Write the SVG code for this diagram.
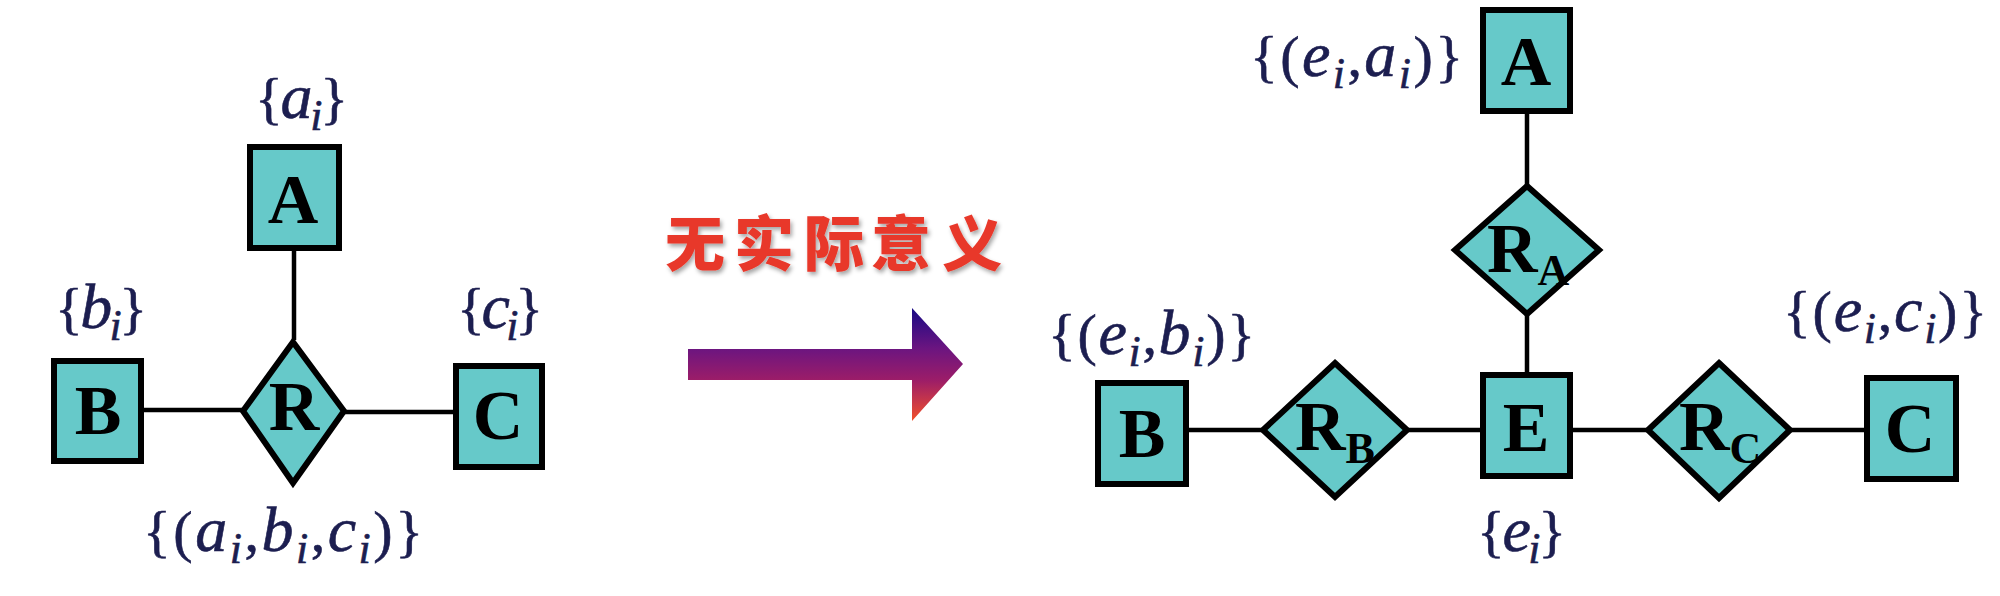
<svg xmlns="http://www.w3.org/2000/svg" width="2000" height="596" viewBox="0 0 2000 596">
  <style>
    .ent { fill: #66C9C9; stroke: #000; stroke-width: 6; }
    .rel { fill: #66C9C9; stroke: #000; stroke-width: 6; stroke-linejoin: miter; }
    .conn line { stroke: #000; stroke-width: 4.5; }
    .lbl { font-family: "Liberation Serif", "Times New Roman", serif; font-weight: bold; font-size: 70px; fill: #000; }
    .sub { font-size: 44px; }
    .math { font-family: "Liberation Serif", "Times New Roman", serif; font-size: 58px; fill: #1c1e50; stroke: #1c1e50; stroke-width: 0.6; }
    .it { font-style: italic; font-size: 64px; }
    .si { font-style: italic; font-size: 44px; }
    .cn { font-family: "Noto Sans CJK SC", sans-serif; font-weight: 900; font-size: 60px; fill: #e8382b; }
  </style>
  <defs>
    <linearGradient id="arrowGrad" x1="0" y1="0" x2="0" y2="1">
      <stop offset="0" stop-color="#180a85"/>
      <stop offset="0.36" stop-color="#6c1580"/>
      <stop offset="0.64" stop-color="#9c1d68"/>
      <stop offset="1" stop-color="#f2502a"/>
    </linearGradient>
    <filter id="shadow" x="-10%" y="-20%" width="130%" height="150%">
      <feDropShadow dx="2" dy="3" stdDeviation="2" flood-color="#000" flood-opacity="0.35"/>
    </filter>
  </defs>

  <!-- connectors -->
  <g id="connectors" class="conn">
    <line x1="294" y1="250" x2="294" y2="340"/>
    <line x1="143" y1="410" x2="243" y2="410"/>
    <line x1="344" y1="412" x2="456" y2="412"/>

    <line x1="1527" y1="111" x2="1527" y2="186"/>
    <line x1="1527" y1="314" x2="1527" y2="375"/>
    <line x1="1186" y1="430" x2="1263" y2="430"/>
    <line x1="1407" y1="430" x2="1483" y2="430"/>
    <line x1="1570" y1="430" x2="1648" y2="430"/>
    <line x1="1790" y1="430" x2="1867" y2="430"/>
  </g>

  <!-- left diagram -->
  <g id="nodeA1">
    <rect class="ent" x="250" y="147" width="89" height="101"/>
    <text class="lbl" x="293" y="223" text-anchor="middle">A</text>
  </g>
  <g id="nodeB1">
    <rect class="ent" x="54" y="361" width="87" height="100"/>
    <text class="lbl" x="98" y="434" text-anchor="middle">B</text>
  </g>
  <g id="nodeC1">
    <rect class="ent" x="456" y="366" width="86" height="101"/>
    <text class="lbl" x="498" y="439" text-anchor="middle">C</text>
  </g>
  <g id="nodeR">
    <polygon class="rel" points="293,342 344,411 293,483 243,411"/>
    <text class="lbl" x="294" y="430" text-anchor="middle">R</text>
  </g>

  <g id="labelsLeft" class="math">
    <text x="301.5" y="118" text-anchor="middle" textLength="93" lengthAdjust="spacing">{<tspan class="it">a</tspan><tspan class="si" dy="12">i</tspan><tspan dy="-12">}</tspan></text>
    <text x="101" y="328" text-anchor="middle" textLength="92" lengthAdjust="spacing">{<tspan class="it">b</tspan><tspan class="si" dy="12">i</tspan><tspan dy="-12">}</tspan></text>
    <text x="500" y="328" text-anchor="middle" textLength="86" lengthAdjust="spacing">{<tspan class="it">c</tspan><tspan class="si" dy="12">i</tspan><tspan dy="-12">}</tspan></text>
    <text x="283" y="551" text-anchor="middle" textLength="280" lengthAdjust="spacing">{(<tspan class="it">a</tspan><tspan class="si" dy="12">i</tspan><tspan dy="-12">,</tspan><tspan class="it">b</tspan><tspan class="si" dy="12">i</tspan><tspan dy="-12">,</tspan><tspan class="it">c</tspan><tspan class="si" dy="12">i</tspan><tspan dy="-12">)}</tspan></text>
  </g>

  <!-- middle arrow and caption -->
  <g id="transform">
    <polygon points="688,349 912,349 912,308 963,364 912,421 912,380 688,380" fill="url(#arrowGrad)"/>
    <text class="cn" filter="url(#shadow)" x="695 764 834 901 972" y="266" text-anchor="middle">无实际意义</text>
  </g>

  <!-- right diagram -->
  <g id="nodeA2">
    <rect class="ent" x="1483" y="10" width="87" height="101"/>
    <text class="lbl" x="1526" y="85" text-anchor="middle">A</text>
  </g>
  <g id="nodeRA">
    <polygon class="rel" points="1527,186 1599,250 1527,314 1455,250"/>
    <text class="lbl" x="1487" y="272">R<tspan class="sub" dy="13">A</tspan></text>
  </g>
  <g id="nodeE">
    <rect class="ent" x="1483" y="375" width="87" height="101"/>
    <text class="lbl" x="1526" y="451" text-anchor="middle">E</text>
  </g>
  <g id="nodeB2">
    <rect class="ent" x="1098" y="383" width="88" height="101"/>
    <text class="lbl" x="1142" y="457" text-anchor="middle">B</text>
  </g>
  <g id="nodeRB">
    <polygon class="rel" points="1335,363 1407,430 1335,497 1263,430"/>
    <text class="lbl" x="1295" y="450">R<tspan class="sub" dy="13">B</tspan></text>
  </g>
  <g id="nodeRC">
    <polygon class="rel" points="1719,363 1790,430 1719,498 1648,430"/>
    <text class="lbl" x="1679" y="450">R<tspan class="sub" dy="13">C</tspan></text>
  </g>
  <g id="nodeC2">
    <rect class="ent" x="1867" y="378" width="89" height="101"/>
    <text class="lbl" x="1910" y="452" text-anchor="middle">C</text>
  </g>

  <g id="labelsRight" class="math">
    <text x="1356.5" y="76" text-anchor="middle" textLength="213" lengthAdjust="spacing">{(<tspan class="it">e</tspan><tspan class="si" dy="12">i</tspan><tspan dy="-12">,</tspan><tspan class="it">a</tspan><tspan class="si" dy="12">i</tspan><tspan dy="-12">)}</tspan></text>
    <text x="1151.5" y="354" text-anchor="middle" textLength="207" lengthAdjust="spacing">{(<tspan class="it">e</tspan><tspan class="si" dy="12">i</tspan><tspan dy="-12">,</tspan><tspan class="it">b</tspan><tspan class="si" dy="12">i</tspan><tspan dy="-12">)}</tspan></text>
    <text x="1885" y="331" text-anchor="middle" textLength="204" lengthAdjust="spacing">{(<tspan class="it">e</tspan><tspan class="si" dy="12">i</tspan><tspan dy="-12">,</tspan><tspan class="it">c</tspan><tspan class="si" dy="12">i</tspan><tspan dy="-12">)}</tspan></text>
    <text x="1521.5" y="551" text-anchor="middle" textLength="89" lengthAdjust="spacing">{<tspan class="it">e</tspan><tspan class="si" dy="12">i</tspan><tspan dy="-12">}</tspan></text>
  </g>
</svg>
